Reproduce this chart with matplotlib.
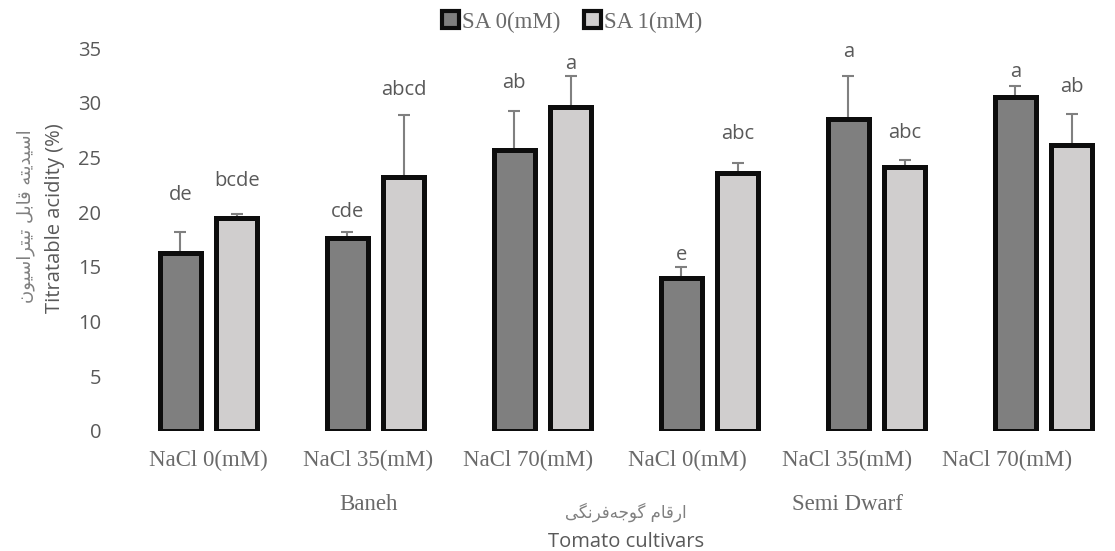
import numpy as np
import matplotlib
matplotlib.use('Agg')
from matplotlib import pyplot as plt
from matplotlib.patches import Patch

# values
treatments = ['NaCl 0(mM)', 'NaCl 35(mM)', 'NaCl 70(mM)', 'NaCl 0(mM)', 'NaCl 35(mM)', 'NaCl 70(mM)']
cultivars = ['Baneh', 'Semi Dwarf']
series_names = ['SA 0(mM)', 'SA 1(mM)']
sa0 = [16.25, 17.6, 25.7, 14.0, 28.5, 30.5]
sa0_err = [1.95, 0.55, 3.5, 1.0, 3.9, 1.0]
sa1 = [19.5, 23.2, 29.6, 23.6, 24.1, 26.1]
sa1_err = [0.35, 5.7, 2.8, 0.9, 0.7, 2.9]
sa0_letters = ['de', 'cde', 'ab', 'e', 'a', 'a']
sa1_letters = ['bcde', 'abcd', 'a', 'abc', 'abc', 'ab']
yticks = [0, 5, 10, 15, 20, 25, 30, 35]

# label gap above the error bar (layout only)
sa0_pad = [3.4, 1.85, 2.6, 1.1, 2.2, 1.3]
sa1_pad = [3.0, 2.3, 1.1, 2.6, 2.4, 2.4]

# Persian strings, shaped by hand (presentation forms, visual order)
ylabel_fa = '\ufee5\ufeee\ufef4\ufeb3\ufe8d\ufeae\ufe98\ufef4\ufe97 \ufede\ufe91\ufe8e\ufed7 \ufeea\ufe98\ufef3\ufeaa\ufef4\ufeb3\ufe8d'
xlabel_fa = '\ufef0\ufb95\ufee7\ufeae\ufed3\ufeea\ufe9f\ufeee\ufb94 \ufee1\ufe8e\ufed7\ufead\ufe8d'

grey_txt = '#595959'
serif_txt = '#6a6a6a'
dark = '#7f7f7f'
light = '#d0cece'

fig = plt.figure(figsize=(11.15, 5.51), dpi=100)
ax = fig.add_axes([125/1115, 1-431/551, 990/1115, 383/551])

x = np.arange(len(sa0))
off = 0.169
w = 0.246
ax.bar(x - off, sa0, w, color=dark, edgecolor='#0d0d0d', linewidth=3.6, zorder=3)
ax.bar(x + off, sa1, w, color=light, edgecolor='#0d0d0d', linewidth=3.6, zorder=3)
ax.errorbar(x - off, sa0, yerr=[np.zeros(6), sa0_err], fmt='none', ecolor='#808080',
            elinewidth=1.5, capsize=4.3, capthick=1.5, zorder=2)
ax.errorbar(x + off, sa1, yerr=[np.zeros(6), sa1_err], fmt='none', ecolor='#808080',
            elinewidth=1.5, capsize=4.3, capthick=1.5, zorder=2)

for i in range(len(x)):
	ax.text(x[i] - off, sa0[i] + sa0_err[i] + sa0_pad[i], sa0_letters[i], ha='center', va='center',
	        fontsize=14.5, family='Open Sans', color=grey_txt)
	ax.text(x[i] + off, sa1[i] + sa1_err[i] + sa1_pad[i], sa1_letters[i], ha='center', va='center',
	        fontsize=14.5, family='Open Sans', color=grey_txt)

ax.set_xlim(-0.5, -0.5 + 990/167)
ax.set_ylim(0, 35)
ax.set_yticks(yticks)
ax.set_yticklabels([str(t) for t in yticks], family='Open Sans', fontsize=14.5, color=grey_txt)
ax.tick_params(axis='y', length=0, pad=17)
ax.set_xticks([])
for s in ax.spines.values():
	s.set_visible(False)

# category labels (spaced as in the reference)
for i, t in enumerate(treatments):
	ax.text(i * 0.956, -2.65, t, ha='center', va='center', family='Liberation Serif',
	        fontsize=16.5, color=serif_txt, clip_on=False)
for i, c in enumerate(cultivars):
	ax.text((1 + 3 * i) * 0.956, -6.75, c, ha='center', va='center', family='Liberation Serif',
	        fontsize=16.5, color=serif_txt, clip_on=False)

ax.text(2.5, -7.4, xlabel_fa, ha='center', va='center', family='DejaVu Sans',
        fontsize=12, color='#808080', clip_on=False)
ax.text(2.5, -10.15, 'Tomato cultivars', ha='center', va='center', family='Open Sans',
        fontsize=14.5, color=grey_txt, clip_on=False)

fig.text(55/1115, 1-218/551, 'Titratable acidity (%)', rotation=90, ha='center', va='center',
         family='Open Sans', fontsize=14.5, color=grey_txt)
fig.text(26/1115, 1-216/551, ylabel_fa, rotation=90, ha='center', va='center',
         family='DejaVu Sans', fontsize=13, color='#808080')

handles = [Patch(facecolor=dark, edgecolor='#0d0d0d', linewidth=3),
           Patch(facecolor=light, edgecolor='#0d0d0d', linewidth=3)]
leg = fig.legend(handles, series_names, loc='center', bbox_to_anchor=(572/1115, 1-22/551), ncol=2,
                 frameon=False, handlelength=0.75, handleheight=0.75, handletextpad=0.15,
                 columnspacing=1.0, prop={'family': 'Liberation Serif', 'size': 16.5})
for t in leg.get_texts():
	t.set_color(serif_txt)

fig.savefig('out.png', dpi=100)
plt.close('all')
